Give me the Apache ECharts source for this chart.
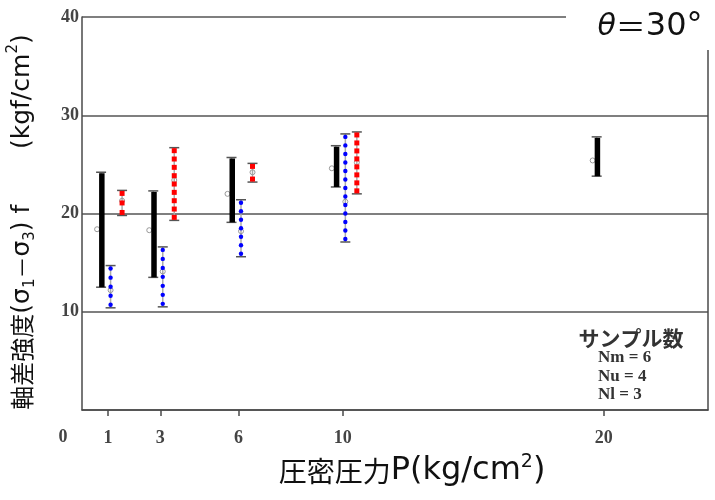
<!DOCTYPE html>
<html>
<head>
<meta charset="utf-8">
<script src="https://cdn.jsdelivr.net/npm/echarts@6/dist/echarts.min.js"></script>
<style>html,body{margin:0;padding:0;background:#fff}#c{width:715px;height:500px}</style>
</head>
<body>
<div id="c"></div>
<script>
// 圧密圧力 P (kg/cm2)
const pressures = [1, 3, 6, 10, 20];
const xTickValues = [1, 3, 6, 10, 20];
const yTickValues = [10, 20, 30, 40];

// 軸差強度 range bars (min, max, mean) in kgf/cm2
// black (solid) group, P = 1,3,6,10,20
const blackMin  = [12.5, 13.5, 19.1, 22.7, 23.8];
const blackMax  = [24.2, 22.3, 25.7, 26.9, 27.8];
const blackMean = [18.4, 18.3, 22.0, 24.6, 25.4];
// blue (dotted) group, P = 1,3,6,10
const blueP    = [1, 3, 6, 10];
const blueMin  = [10.4, 10.5, 15.6, 17.1];
const blueMax  = [14.7, 16.6, 21.4, 28.1];
const blueMean = [12.2, 14.1, 18.2, 21.2];
// red (square-dashed) group, P = 1,3,6,10
const redP    = [1, 3, 6, 10];
const redMin  = [19.8, 19.3, 23.2, 22.0];
const redMax  = [22.35, 26.7, 25.1, 28.3];
const redMean = [21.3, 23.4, 24.2, 25.2];

const legendTitle = 'サンプル数';
const legendLines = ['Nm = 6', 'Nu = 4', 'Nl = 3'];

function rows(ps, mins, maxs, means) {
  return ps.map((p, i) => [p, mins[i], maxs[i], means[i]]);
}

function makeRender(kind, dx) {
  return function (params, api) {
    const top = api.coord([api.value(0), api.value(2)]);
    const bot = api.coord([api.value(0), api.value(1)]);
    const mean = api.coord([api.value(0), api.value(3)]);
    const x = top[0] + dx;
    const y1 = top[1], y2 = bot[1];
    const ch = [];
    ch.push({type: 'line', shape: {x1: x, y1: y1, x2: x, y2: y2}, style: {stroke: '#aaa', lineWidth: 1.5}});
    ch.push({type: 'line', shape: {x1: x - 5, y1: y1, x2: x + 5, y2: y1}, style: {stroke: '#555', lineWidth: 1.5}});
    ch.push({type: 'line', shape: {x1: x - 5, y1: y2, x2: x + 5, y2: y2}, style: {stroke: '#555', lineWidth: 1.5}});
    ch.push({type: 'circle', shape: {cx: x - (kind === 'black' ? 4 : 0), cy: mean[1], r: 2.5}, style: {fill: 'none', stroke: '#999', lineWidth: 1}});
    if (kind === 'black') {
      ch.push({type: 'rect', shape: {x: x - 2, y: y1 + 1, width: 5.5, height: y2 - y1 - 1}, style: {fill: '#000'}});
    } else {
      const a = y1 + 3, b = y2 - 3;
      const n = Math.max(2, Math.round((b - a) / 8.5) + 1);
      for (let i = 0; i < n; i++) {
        const yy = a + (b - a) * i / (n - 1);
        if (kind === 'blue') {
          ch.push({type: 'circle', shape: {cx: x, cy: yy, r: 2.2}, style: {fill: '#0000ff'}});
        } else {
          ch.push({type: 'rect', shape: {x: x - 2.5, y: yy - 2.5, width: 5, height: 5}, style: {fill: '#ff0000'}});
        }
      }
    }
    return {type: 'group', children: ch};
  };
}

const chart = echarts.init(document.getElementById('c'), null, {renderer: 'canvas'});
const axisCol = '#4a4a4a';
const labelFont = {color: '#444', fontFamily: 'Liberation Serif', fontWeight: 'bold', fontSize: 18};
const CJK = 'Noto Sans CJK JP';
const LAT = 'DejaVu Sans';

chart.setOption({
  animation: false,
  backgroundColor: '#fff',
  grid: {left: 82, right: 7, top: 17, bottom: 90},
  xAxis: {
    type: 'value', min: 0, max: 24,
    splitLine: {show: false},
    axisLine: {lineStyle: {color: axisCol, width: 1.5}},
    axisTick: {show: true, customValues: xTickValues, length: 6, lineStyle: {color: axisCol, width: 1.5}},
    axisLabel: Object.assign({customValues: xTickValues, margin: 19}, labelFont)
  },
  yAxis: [{
    type: 'value', min: 0, max: 40, interval: 10,
    splitLine: {show: true, lineStyle: {color: '#555', width: 1.6}},
    axisLine: {show: true, lineStyle: {color: axisCol, width: 1.5}},
    axisTick: {show: false},
    axisLabel: Object.assign({margin: 3, formatter: v => yTickValues.indexOf(v) >= 0 ? String(v) : ''}, labelFont)
  }, {
    type: 'value', min: 0, max: 40, position: 'right',
    splitLine: {show: false},
    axisLine: {show: true, lineStyle: {color: axisCol, width: 1.5}},
    axisTick: {show: false}, axisLabel: {show: false}
  }],
  series: [
    {type: 'custom', renderItem: makeRender('black', -7), data: rows(pressures, blackMin, blackMax, blackMean), z: 3},
    {type: 'custom', renderItem: makeRender('blue', 2.5), data: rows(blueP, blueMin, blueMax, blueMean), z: 3},
    {type: 'custom', renderItem: makeRender('red', 14), data: rows(redP, redMin, redMax, redMean), z: 3}
  ],
  graphic: [
    {type: 'text', x: 63, y: 437, style: {text: '0', fill: '#444', font: 'bold 18px "Liberation Serif"', textAlign: 'center', textVerticalAlign: 'middle'}},
    {type: 'rect', shape: {x: 566, y: 0, width: 149, height: 50}, style: {fill: '#fff'}, z: 10},
    {type: 'text', x: 650, y: 27, z: 11, style: {
      text: '{i|θ}{e|＝}{n|30°}', textAlign: 'center', textVerticalAlign: 'middle',
      rich: {
        i: {fontFamily: LAT, fontStyle: 'italic', fontSize: 30, fill: '#111'},
        e: {fontFamily: CJK, fontSize: 30, fill: '#111'},
        n: {fontFamily: LAT, fontSize: 32, fill: '#111'}
      }
    }},
    {type: 'text', x: 22, y: 222, rotation: Math.PI / 2, z: 11, style: {
      text: '{c|軸差強度}{n|(σ}{s|1}{m|－}{n|σ}{s|3}{n|) f       (kgf/cm}{p|2}{n|)}',
      textAlign: 'center', textVerticalAlign: 'middle',
      rich: {
        c: {fontFamily: CJK, fontSize: 24, lineHeight: 32, fill: '#111', verticalAlign: 'middle'},
        m: {fontFamily: CJK, fontSize: 22, lineHeight: 32, fill: '#111', verticalAlign: 'middle'},
        n: {fontFamily: LAT, fontSize: 25, lineHeight: 32, fill: '#111', verticalAlign: 'middle'},
        s: {fontFamily: LAT, fontSize: 15, lineHeight: 15, fill: '#111', verticalAlign: 'bottom'},
        p: {fontFamily: LAT, fontSize: 15, lineHeight: 15, fill: '#111', verticalAlign: 'top'}
      }
    }},
    {type: 'text', x: 412, y: 471, z: 11, style: {
      text: '{c|圧密圧力}{n|P(kg/cm}{p|2}{n|)}', textAlign: 'center', textVerticalAlign: 'middle',
      rich: {
        c: {fontFamily: CJK, fontSize: 28, lineHeight: 36, fill: '#111', verticalAlign: 'middle'},
        n: {fontFamily: LAT, fontSize: 32, lineHeight: 36, fill: '#111', verticalAlign: 'middle'},
        p: {fontFamily: LAT, fontSize: 19, lineHeight: 19, fill: '#111', verticalAlign: 'top'}
      }
    }},
    {type: 'text', x: 631, y: 338, z: 11, style: {text: legendTitle, fill: '#333', font: 'bold 21px "Noto Sans CJK JP"', textAlign: 'center', textVerticalAlign: 'middle'}},
    {type: 'text', x: 598, y: 358, z: 11, style: {text: legendLines[0], fill: '#333', font: 'bold 17px "Liberation Serif"', textAlign: 'left', textVerticalAlign: 'middle'}},
    {type: 'text', x: 598, y: 377, z: 11, style: {text: legendLines[1], fill: '#333', font: 'bold 17px "Liberation Serif"', textAlign: 'left', textVerticalAlign: 'middle'}},
    {type: 'text', x: 598, y: 395, z: 11, style: {text: legendLines[2], fill: '#333', font: 'bold 17px "Liberation Serif"', textAlign: 'left', textVerticalAlign: 'middle'}}
  ]
});
</script>
</body>
</html>
